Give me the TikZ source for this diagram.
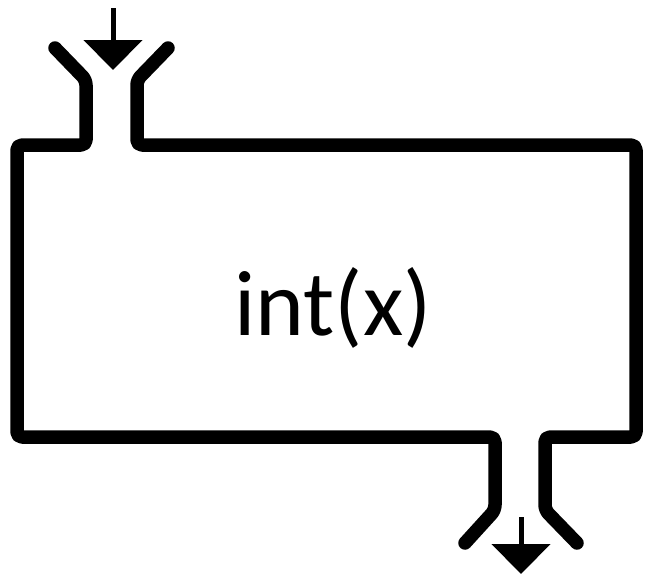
\documentclass[tikz,border=0pt]{standalone}
\usepackage{fontspec}
\setmainfont{Carlito}
\usetikzlibrary{arrows.meta}
\begin{document}
\begin{tikzpicture}[x=1pt,y=-1pt,
  wall/.style={line width=13.5pt,line cap=round,line join=round,rounded corners=5pt},
  flow/.style={line width=5pt,-{Triangle[length=30pt,width=58pt]}}]
\useasboundingbox (0,0) rectangle (648,574);
\coordinate (inA) at (113,8);
\coordinate (inB) at (113,70);
\coordinate (outA) at (521,517);
\coordinate (outB) at (521,574);
\draw[wall] (168,48) -- (137,80) -- (137,145) -- (636,145) -- (636,437) -- (545,437) -- (545,510) -- (577,543);
\draw[wall] (55,48) -- (86,80) -- (86,145) -- (17,145) -- (17,437) -- (495,437) -- (495,510) -- (465,543);
\draw[flow] (inA) -- (inB);
\draw[flow] (outA) -- (outB);
\node[font=\fontsize{93}{100}\selectfont,inner sep=0pt] (lbl) at (333,308) {int(x)};
\end{tikzpicture}
\end{document}
